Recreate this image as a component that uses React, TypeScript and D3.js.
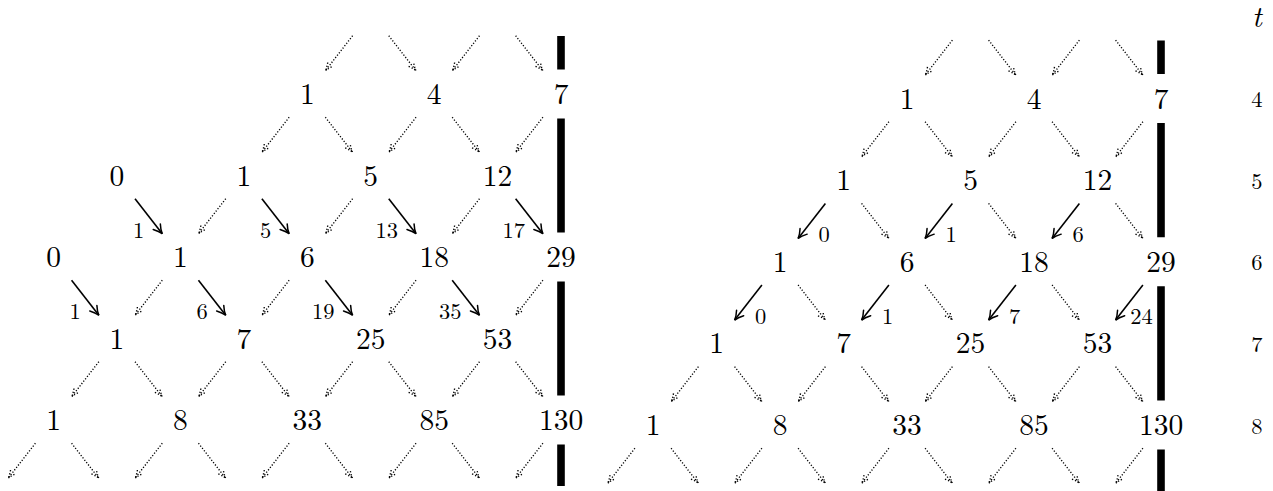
import React from 'react';
import * as d3 from 'd3';

const W = 1273;
const H = 491;

// rows t = 4..8; each row starts at a column index and lists its values
const times = [4, 5, 6, 7, 8];
const leftRowStart = [4, 1, 0, 1, 0];
const leftRowValues = [[1, 4, 7], [0, 1, 5, 12], [0, 1, 6, 18, 29], [1, 7, 25, 53], [1, 8, 33, 85, 130]];
const rightRowStart = [4, 3, 2, 1, 0];
const rightRowValues = [[1, 4, 7], [1, 5, 12], [1, 6, 18, 29], [1, 7, 25, 53], [1, 8, 33, 85, 130]];

// solid (labelled) arrows: source row, first source column, direction, labels every 2nd column
const leftSolid = [
  { t: 5, k0: 1, dir: 1, labels: [1, 5, 13, 17] },
  { t: 6, k0: 0, dir: 1, labels: [1, 6, 19, 35] },
];
const rightSolid = [
  { t: 5, k0: 3, dir: -1, labels: [0, 1, 6] },
  { t: 6, k0: 2, dir: -1, labels: [0, 1, 7, 24] },
];

// arrows entering the top row come from these (hidden) columns of row t = 3
const hiddenTopColumns = [5, 7];

const FONT = '"Latin Modern Roman"';

type Panel = {
  x: d3.ScaleLinear<number, number>;
  y: d3.ScaleLinear<number, number>;
  rowStart: number[];
  rowValues: number[][];
  solid: { t: number; k0: number; dir: number; labels: number[] }[];
  labelSide: 'left' | 'right';
};

const panels: Panel[] = [
  {
    x: d3.scaleLinear().domain([0, 8]).range([53.5, 561]),
    y: d3.scaleLinear().domain([4, 8]).range([94, 420]),
    rowStart: leftRowStart,
    rowValues: leftRowValues,
    solid: leftSolid,
    labelSide: 'left',
  },
  {
    x: d3.scaleLinear().domain([0, 8]).range([653, 1161]),
    y: d3.scaleLinear().domain([4, 8]).range([98.5, 425]),
    rowStart: rightRowStart,
    rowValues: rightRowValues,
    solid: rightSolid,
    labelSide: 'right',
  },
];

function arrowHead(x1: number, y1: number, ux: number, uy: number, len = 9, spread = 4.5) {
  const nx = -uy, ny = ux;
  const bx = x1 - len * ux, by = y1 - len * uy;
  const cx = x1 - len * 0.45 * ux, cy = y1 - len * 0.45 * uy;
  const c = spread * 0.22;
  return `M${bx + spread * nx},${by + spread * ny} Q${cx + c * nx},${cy + c * ny} ${x1},${y1} Q${cx - c * nx},${cy - c * ny} ${bx - spread * nx},${by - spread * ny}`;
}

function segment(p: Panel, t: number, k: number, dir: number) {
  const sx = p.x(k), sy = p.y(t);
  const tx = p.x(k + dir), ty = p.y(t + 1);
  const x0 = sx + (tx - sx) * 0.285, y0 = sy + (ty - sy) * 0.285;
  const x1 = sx + (tx - sx) * 0.715, y1 = sy + (ty - sy) * 0.715;
  const len = Math.hypot(x1 - x0, y1 - y0);
  return { x0, y0, x1, y1, ux: (x1 - x0) / len, uy: (y1 - y0) / len };
}

function PanelView({ p }: { p: Panel }) {
  const solidKeys = new Set<string>();
  const solidArrows: { t: number; k: number; dir: number; label: number }[] = [];
  p.solid.forEach(s => s.labels.forEach((label, i) => {
    const k = s.k0 + 2 * i;
    solidKeys.add(`${s.t},${k},${s.dir}`);
    solidArrows.push({ t: s.t, k, dir: s.dir, label });
  }));

  const sources: { t: number; k: number; v: number | null }[] = hiddenTopColumns.map(k => ({ t: 3, k, v: null }));
  times.forEach((t, r) => p.rowValues[r].forEach((v, i) => sources.push({ t, k: p.rowStart[r] + 2 * i, v })));

  // every node sends a dotted arrow to both children, unless it is a zero,
  // the child is off the grid, or the move is drawn solid
  const dotted: { t: number; k: number; dir: number }[] = [];
  sources.forEach(s => {
    if (s.v === 0) return;
    [-1, 1].forEach(dir => {
      const tk = s.k + dir;
      if (tk > 8 || tk < -1) return;
      if (solidKeys.has(`${s.t},${s.k},${dir}`)) return;
      dotted.push({ t: s.t, k: s.k, dir });
    });
  });

  const xb = p.x(8);
  const barSegs = [
    [p.y(4) - 58, p.y(4) - 24.5],
    [p.y(4) + 24.5, p.y(6) - 24.5],
    [p.y(6) + 24.5, p.y(8) - 24.5],
    [p.y(8) + 24.5, p.y(8) + 66],
  ];

  return (
    <g>
      {barSegs.map(([a, b], i) => (
        <rect key={`bar${i}`} x={xb - 3.8} y={a} width={7.6} height={b - a} fill="#000" />
      ))}
      {dotted.map((d, i) => {
        const s = segment(p, d.t, d.k, d.dir);
        return (
          <g key={`d${i}`} fill="none" stroke="#000" strokeWidth={1.35} strokeDasharray="1.2 1.8">
            <line x1={s.x0} y1={s.y0} x2={s.x1} y2={s.y1} />
            <path d={arrowHead(s.x1, s.y1, s.ux, s.uy, 8, 3.2)} />
          </g>
        );
      })}
      {solidArrows.map((a, i) => {
        const s = segment(p, a.t, a.k, a.dir);
        const left = p.labelSide === 'left';
        return (
          <g key={`s${i}`}>
            <line x1={s.x0} y1={s.y0} x2={s.x1} y2={s.y1} stroke="#000" strokeWidth={1.6} />
            <path d={arrowHead(s.x1, s.y1, s.ux, s.uy)} fill="none" stroke="#000" strokeWidth={1.5} strokeLinecap="round" />
            <text
              x={left ? s.x1 - 18 : s.x1 + 26}
              y={s.y1 + 4}
              textAnchor={left ? 'end' : 'middle'}
              style={{ fontSize: 22.5, fontFamily: FONT }}
            >
              {a.label}
            </text>
          </g>
        );
      })}
      {times.map((t, r) => p.rowValues[r].map((v, i) => (
        <text
          key={`n${t}-${i}`}
          x={p.x(p.rowStart[r] + 2 * i)}
          y={p.y(t) + 10}
          textAnchor="middle"
          style={{ fontSize: 29.5, fontFamily: FONT }}
        >
          {v}
        </text>
      )))}
    </g>
  );
}

export default function App() {
  const yT = panels[1].y;
  return (
    <svg width={W} height={H} style={{ position: 'absolute', left: 0, top: 0, background: '#fff' }}>
      {panels.map((p, i) => <PanelView key={i} p={p} />)}
      <text x={1257} y={yT(3) + 10.5} textAnchor="middle" style={{ fontSize: 29.5, fontStyle: 'italic', fontFamily: FONT }}>t</text>
      {times.map(t => (
        <text key={`t${t}`} x={1257} y={yT(t) + 8.5} textAnchor="middle" style={{ fontSize: 22.5, fontFamily: FONT }}>{t}</text>
      ))}
    </svg>
  );
}
